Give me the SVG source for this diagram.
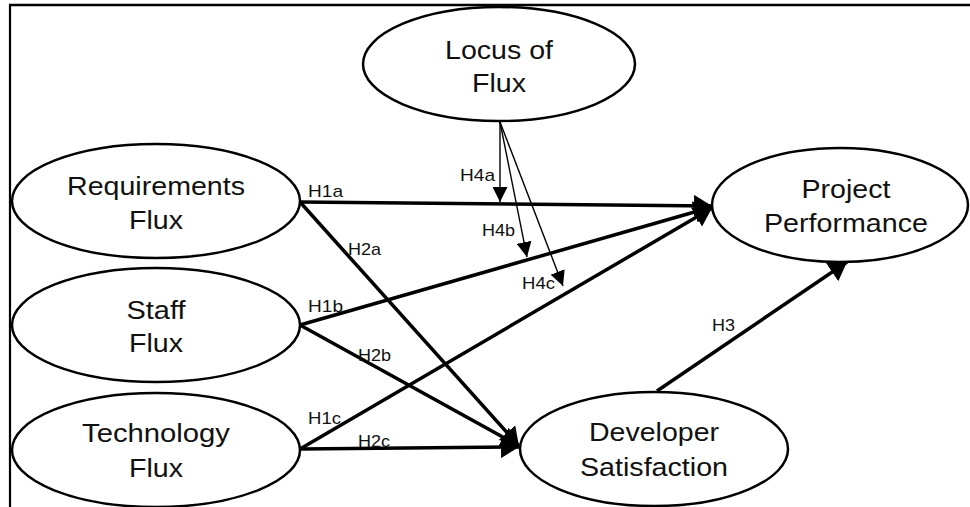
<svg xmlns="http://www.w3.org/2000/svg" width="970" height="507" viewBox="0 0 970 507">
<style>
.node{fill:#fff;stroke:#000;stroke-width:2.5}
.t{font-family:"Liberation Sans",Arial,sans-serif;font-size:25px;fill:#111;text-anchor:middle}
.lb{font-family:"Liberation Sans",Arial,sans-serif;font-size:17px;fill:#111}
.thick{stroke:#000;stroke-width:3.5;fill:none}
.thin{stroke:#000;stroke-width:1.4;fill:none}
</style>
<defs>
<marker id="big" markerUnits="userSpaceOnUse" markerWidth="20" markerHeight="22" refX="18" refY="11" orient="auto">
<path d="M0,0 L18,11 L0,22 z" fill="#000"/>
</marker>
<marker id="small" markerUnits="userSpaceOnUse" markerWidth="16" markerHeight="15" refX="15" refY="7.5" orient="auto">
<path d="M0,0 L15,7.5 L0,15 z" fill="#000"/>
</marker>
</defs>
<rect width="970" height="507" fill="#fff"/>
<g id="frame">
<line x1="9" y1="5" x2="970" y2="5" stroke="#000" stroke-width="2.5"/>
<line x1="10" y1="4" x2="10" y2="507" stroke="#000" stroke-width="2.2"/>
</g>
<g id="connectors">
<line class="thick" x1="300" y1="202" x2="712" y2="206" marker-end="url(#big)"/>
<line class="thick" x1="300" y1="325" x2="712" y2="207" marker-end="url(#big)"/>
<line class="thick" x1="300" y1="449" x2="712" y2="208" marker-end="url(#big)"/>
<line class="thick" x1="300" y1="202" x2="519" y2="446" marker-end="url(#big)"/>
<line class="thick" x1="300" y1="325" x2="519" y2="446" marker-end="url(#big)"/>
<line class="thick" x1="300" y1="449" x2="519" y2="447" marker-end="url(#big)"/>
<line class="thick" x1="657" y1="391" x2="847" y2="262" marker-end="url(#big)"/>
<line class="thin" x1="500" y1="122" x2="500" y2="202" marker-end="url(#small)"/>
<line class="thin" x1="500" y1="122" x2="527" y2="257" marker-end="url(#small)"/>
<line class="thin" x1="500" y1="122" x2="563" y2="286" marker-end="url(#small)"/>
<g id="labels">
<text class="lb" x="308" y="197" textLength="35" lengthAdjust="spacingAndGlyphs">H1a</text>
<text class="lb" x="348" y="255" textLength="33" lengthAdjust="spacingAndGlyphs">H2a</text>
<text class="lb" x="308" y="312" textLength="35" lengthAdjust="spacingAndGlyphs">H1b</text>
<text class="lb" x="358" y="361" textLength="33" lengthAdjust="spacingAndGlyphs">H2b</text>
<text class="lb" x="308" y="424" textLength="33" lengthAdjust="spacingAndGlyphs">H1c</text>
<text class="lb" x="358" y="447" textLength="32" lengthAdjust="spacingAndGlyphs">H2c</text>
<text class="lb" x="460" y="181" textLength="35" lengthAdjust="spacingAndGlyphs">H4a</text>
<text class="lb" x="482" y="236" textLength="33" lengthAdjust="spacingAndGlyphs">H4b</text>
<text class="lb" x="522" y="289" textLength="33" lengthAdjust="spacingAndGlyphs">H4c</text>
<text class="lb" x="712" y="331" textLength="23" lengthAdjust="spacingAndGlyphs">H3</text>
</g>
</g>
<g id="locus">
<ellipse class="node" cx="499" cy="64" rx="136" ry="57"/>
<text class="t" x="499" y="59" textLength="108" lengthAdjust="spacingAndGlyphs">Locus of</text>
<text class="t" x="499" y="92" textLength="54" lengthAdjust="spacingAndGlyphs">Flux</text>
</g>
<g id="requirements">
<ellipse class="node" cx="156" cy="201" rx="144" ry="57"/>
<text class="t" x="156" y="195" textLength="178" lengthAdjust="spacingAndGlyphs">Requirements</text>
<text class="t" x="156" y="229" textLength="54" lengthAdjust="spacingAndGlyphs">Flux</text>
</g>
<g id="staff">
<ellipse class="node" cx="156" cy="325" rx="144" ry="57"/>
<text class="t" x="156" y="319" textLength="59" lengthAdjust="spacingAndGlyphs">Staff</text>
<text class="t" x="156" y="352" textLength="54" lengthAdjust="spacingAndGlyphs">Flux</text>
</g>
<g id="technology">
<ellipse class="node" cx="156" cy="450" rx="144" ry="57"/>
<text class="t" x="156" y="442" textLength="148" lengthAdjust="spacingAndGlyphs">Technology</text>
<text class="t" x="156" y="477" textLength="54" lengthAdjust="spacingAndGlyphs">Flux</text>
</g>
<g id="project">
<ellipse class="node" cx="840" cy="205" rx="128" ry="57"/>
<text class="t" x="846" y="198" textLength="89" lengthAdjust="spacingAndGlyphs">Project</text>
<text class="t" x="846" y="232" textLength="164" lengthAdjust="spacingAndGlyphs">Performance</text>
</g>
<g id="developer">
<ellipse class="node" cx="654" cy="449" rx="134" ry="57"/>
<text class="t" x="654" y="441" textLength="130" lengthAdjust="spacingAndGlyphs">Developer</text>
<text class="t" x="654" y="476" textLength="148" lengthAdjust="spacingAndGlyphs">Satisfaction</text>
</g>
</svg>
